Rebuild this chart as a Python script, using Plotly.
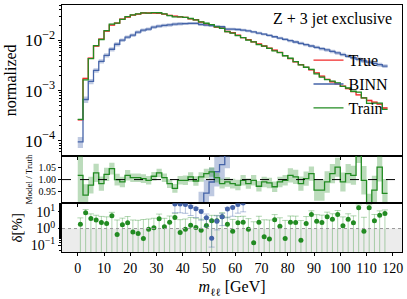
import plotly.graph_objects as go
from plotly.subplots import make_subplots

# ---------------- data ----------------
bin_edges = list(range(0, 120, 2))          # 59 bins
bin_centers = [e + 1 for e in bin_edges[:-1]]

true_vals = [2.6e-4, 1.74e-3, 4.4e-3, 7.6e-3, 0.0105, 0.0151, 0.0200, 0.0219, 0.0263, 0.0288,
             0.0316, 0.0331, 0.0347, 0.0347, 0.0347, 0.0342, 0.0331, 0.0312, 0.0302, 0.0292,
             0.0284, 0.0267, 0.0255, 0.0229, 0.0212, 0.0197, 0.0182, 0.0174, 0.0149, 0.01406,
             0.01259, 0.01127, 0.01023, 0.00929, 0.00843, 0.00766, 0.00698, 0.00631, 0.00570, 0.00492,
             0.00429, 0.00370, 0.00327, 0.00288, 0.00257, 0.00224, 0.00193, 0.00166, 0.00149, 0.00135,
             0.00122, 0.00109, 0.000946, 0.000817, 0.000711, 0.000631, 0.000586, 0.000532, 0.000447]

binn_vals = [9.5e-5, 6.6e-4, 1.51e-3, 2.51e-3, 3.80e-3, 5.0e-3, 6.6e-3, 8.3e-3, 0.0100, 0.0115,
             0.0126, 0.0145, 0.0158, 0.0166, 0.0182, 0.0191, 0.0197, 0.0202, 0.0209, 0.0212,
             0.0214, 0.0216, 0.0216, 0.0205, 0.0200, 0.0195, 0.0188, 0.0185, 0.0166, 0.0166,
             0.0163, 0.0159, 0.01535, 0.01459, 0.01387, 0.01318, 0.01242, 0.01169, 0.01102, 0.01038,
             0.00977, 0.00920, 0.00867, 0.00813, 0.00766, 0.00721, 0.00679, 0.00640, 0.00597, 0.00557,
             0.00518, 0.00479, 0.00447, 0.00417, 0.00387, 0.00366, 0.00347, 0.00325, 0.00306]

binn_relerr = [0.25, 0.15, 0.12, 0.10, 0.10, 0.10, 0.10, 0.10, 0.08, 0.08,
               0.08, 0.08, 0.08, 0.08, 0.08, 0.08, 0.08, 0.08, 0.08, 0.08,
               0.06, 0.06, 0.06, 0.06, 0.06, 0.06, 0.06, 0.06, 0.06, 0.06,
               0.06, 0.06, 0.06, 0.06, 0.06, 0.06, 0.06, 0.06, 0.06, 0.06,
               0.07, 0.07, 0.07, 0.07, 0.07, 0.07, 0.08, 0.08, 0.08, 0.08,
               0.08, 0.08, 0.08, 0.09, 0.09, 0.09, 0.09, 0.09, 0.09]

train_ratio = [1.018, 0.935, 0.977, 1.028, 0.983, 1.022, 1.046, 1.000, 0.990, 1.018,
               1.008, 1.008, 1.004, 0.997, 1.014, 1.028, 1.008, 0.983, 0.963, 0.997,
               0.997, 1.011, 0.994, 1.011, 1.025, 1.032, 1.008, 0.983, 0.990, 0.983,
               0.977, 0.997, 0.983, 0.997, 0.972, 0.990, 0.986, 0.970, 0.990, 0.997,
               1.018, 1.011, 0.983, 1.004, 1.025, 0.956, 0.956, 0.990, 1.025, 1.052,
               0.990, 1.025, 1.018, 1.130, 0.997, 0.880, 0.956, 1.052, 0.942]

train_ratio_err = [0.15, 0.045, 0.035, 0.038, 0.030, 0.028, 0.025, 0.025, 0.022, 0.022,
                   0.018, 0.018, 0.018, 0.018, 0.018, 0.018, 0.018, 0.018, 0.018, 0.018,
                   0.020, 0.020, 0.020, 0.020, 0.020, 0.020, 0.020, 0.020, 0.020, 0.020,
                   0.022, 0.022, 0.022, 0.022, 0.022, 0.022, 0.022, 0.022, 0.022, 0.022,
                   0.030, 0.030, 0.030, 0.030, 0.030, 0.045, 0.045, 0.045, 0.040, 0.040,
                   0.040, 0.040, 0.040, 0.060, 0.060, 0.060, 0.060, 0.060, 0.060]

train_delta = [1.82, 8.7, 4.0, 3.2, 2.3, 2.0, 5.75, 0.44, 1.66, 2.19,
               0.63, 0.5, 0.25, 0.91, 1.1, 3.8, 1.26, 2.4, 4.6, 0.58,
               0.91, 1.58, 1.15, 0.79, 1.51, 2.9, 2.9, 5.0, 1.8, 0.69,
               2.2, 2.4, 0.91, 0.14, 2.4, 0.32, 0.24, 3.3, 1.38, 0.25,
               2.4, 2.3, 0.2, 2.0, 6.9, 2.75, 2.3, 5.0, 3.6, 6.9,
               1.45, 3.6, 2.2, 17.4, 0.69, 17.4, 2.9, 6.3, 7.9]

train_delta_err = [2.5, 5.0, 3.5, 3.0, 3.0, 3.0, 3.5, 2.8, 2.5, 3.0,
                   2.6, 2.6, 3.2, 2.8, 3.0, 3.5, 2.8, 3.2, 3.5, 2.8,
                   2.8, 3.0, 3.0, 2.8, 3.0, 3.2, 3.2, 3.8, 3.0, 2.8,
                   3.0, 3.0, 3.0, 2.4, 3.0, 3.0, 3.0, 3.5, 3.0, 2.8,
                   3.2, 3.2, 2.8, 3.2, 4.5, 4.0, 4.0, 4.5, 4.0, 5.0,
                   3.5, 4.0, 3.5, 8.0, 4.0, 9.0, 4.0, 5.0, 5.0]

binn_delta_bins = [19, 20, 21, 22, 23, 24, 25, 26, 27, 28, 29, 30, 31, 32]
binn_delta = [29, 29, 27, 20, 15, 10.5, 4.4, 0.26, 2.75, 5.0, 14.5, 18, 27.5, 33]

title_text = "Z + 3 jet exclusive"

# ---------------- style ----------------
RED = "#f02a2a"
BLUE = "#4463a8"
GREEN = "#228b22"
FONT = "Liberation Serif, DejaVu Serif, serif"

fig = make_subplots(rows=3, cols=1, shared_xaxes=True, vertical_spacing=0,
                    row_heights=[152, 48, 49])


def step(v):
    return list(v) + [v[-1]]


def band(vals, err, rel, color, row):
    if rel:
        lo = [v * (1 - e) for v, e in zip(vals, err)]
        hi = [v * (1 + e) for v, e in zip(vals, err)]
    else:
        lo = [v - e for v, e in zip(vals, err)]
        hi = [v + e for v, e in zip(vals, err)]
    fig.add_trace(go.Scatter(x=bin_edges, y=step(lo), mode="lines", line=dict(width=0, shape="hv"),
                             showlegend=False, hoverinfo="skip"), row=row, col=1)
    fig.add_trace(go.Scatter(x=bin_edges, y=step(hi), mode="lines", line=dict(width=0, shape="hv"),
                             fill="tonexty", fillcolor=color, showlegend=False, hoverinfo="skip"),
                  row=row, col=1)


train_vals = [t * r for t, r in zip(true_vals, train_ratio)]
binn_ratio = [b / t for b, t in zip(binn_vals, true_vals)]

# main panel
band(true_vals, [0.03] * len(true_vals), True, "rgba(240,42,42,0.35)", 1)
band(binn_vals, binn_relerr, True, "rgba(68,99,168,0.35)", 1)
band(train_vals, [0.02] * len(train_vals), True, "rgba(34,139,34,0.3)", 1)
fig.add_trace(go.Scatter(x=bin_edges, y=step(true_vals), mode="lines", name="True",
                         line=dict(color=RED, width=1.3, shape="hv")), row=1, col=1)
fig.add_trace(go.Scatter(x=bin_edges, y=step(binn_vals), mode="lines", name="BINN",
                         line=dict(color=BLUE, width=1.3, shape="hv")), row=1, col=1)
fig.add_trace(go.Scatter(x=bin_edges, y=step(train_vals), mode="lines", name="Train",
                         line=dict(color=GREEN, width=1.3, shape="hv")), row=1, col=1)

# ratio panel
band(binn_ratio, binn_relerr, True, "rgba(68,99,168,0.35)", 2)
fig.add_trace(go.Scatter(x=bin_edges, y=step(binn_ratio), mode="lines", showlegend=False,
                         line=dict(color=BLUE, width=1.3, shape="hv")), row=2, col=1)
band(train_ratio, train_ratio_err, False, "rgba(34,139,34,0.3)", 2)
fig.add_trace(go.Scatter(x=bin_edges, y=step(train_ratio), mode="lines", showlegend=False,
                         line=dict(color=GREEN, width=1.3, shape="hv")), row=2, col=1)

# delta panel
fig.add_trace(go.Scatter(x=bin_centers, y=train_delta, mode="markers", showlegend=False,
                         marker=dict(color=GREEN, size=5),
                         error_y=dict(type="data", symmetric=False, array=train_delta_err,
                                      arrayminus=[v * 0.999 for v in train_delta],
                                      color="rgba(34,139,34,0.35)", thickness=1, width=3)),
              row=3, col=1)
fig.add_trace(go.Scatter(x=[bin_centers[i - 1] for i in binn_delta_bins], y=binn_delta,
                         mode="markers", showlegend=False,
                         marker=dict(color=BLUE, size=5),
                         error_y=dict(type="data", symmetric=False, array=[3] * len(binn_delta),
                                      arrayminus=[v * 0.7 for v in binn_delta],
                                      color="rgba(68,99,168,0.4)", thickness=1, width=3)),
              row=3, col=1)

# shapes
fig.add_shape(type="rect", xref="x3 domain", yref="y3 domain", x0=0, x1=1, y0=0, y1=1.4 / 2.9,
              fillcolor="#ececec", line=dict(width=0), layer="below")
fig.add_shape(type="line", xref="x3 domain", yref="y3 domain", x0=0, x1=1, y0=1.4 / 2.9, y1=1.4 / 2.9,
              line=dict(color="#999999", width=1, dash="dot"))
fig.add_shape(type="line", xref="x2 domain", yref="y2", x0=0, x1=1, y0=1, y1=1,
              line=dict(color="black", width=1, dash="dash"))

fig.add_annotation(text=title_text, xref="paper", yref="paper", x=0.975, y=0.944,
                   xanchor="right", yanchor="middle", showarrow=False,
                   font=dict(family=FONT, size=16, color="black"))

axis_common = dict(showline=True, linecolor="black", linewidth=1, mirror=True,
                   ticks="outside", ticklen=3, tickcolor="black", showgrid=False, zeroline=False,
                   tickfont=dict(family=FONT, size=14, color="black"))

for r in (1, 2, 3):
    fig.update_xaxes(range=[-6, 123.5], row=r, col=1, **axis_common)
fig.update_xaxes(row=3, col=1, tickvals=list(range(0, 130, 10)),
                 title=dict(text="<i>m</i><sub>ℓℓ</sub> [GeV]", standoff=6,
                            font=dict(family=FONT, size=16, color="black")))

fig.update_yaxes(type="log", range=[-4.3, -1.3], dtick=1, exponentformat="power", row=1, col=1,
                 minor=dict(ticks="outside", ticklen=2, tickcolor="black", dtick="D1"),
                 title=dict(text="normalized", standoff=4,
                            font=dict(family=FONT, size=16, color="black")),
                 **axis_common)
ratio_axis = dict(axis_common)
ratio_axis["tickfont"] = dict(family=FONT, size=10, color="black")
fig.update_yaxes(range=[0.9, 1.1], tickvals=[0.95, 1.0, 1.05], ticktext=["0.95", "1.00", "1.05"],
                 row=2, col=1,
                 title=dict(text="Model / Truth", standoff=4,
                            font=dict(family=FONT, size=9, color="black")),
                 **ratio_axis)
fig.update_yaxes(type="log", range=[-1.4, 1.5], tickvals=[0.1, 1, 10],
                 ticktext=["10<sup>−1</sup>", "10<sup>0</sup>", "10<sup>1</sup>"], row=3, col=1,
                 minor=dict(ticks="outside", ticklen=2, tickcolor="black"),
                 title=dict(text="δ[%]", standoff=4,
                            font=dict(family=FONT, size=15, color="black")),
                 **axis_common)

fig.update_layout(width=407, height=299, margin=dict(l=62, r=5, t=3, b=47),
                  paper_bgcolor="white", plot_bgcolor="white",
                  font=dict(family=FONT, size=14, color="black"),
                  legend=dict(x=0.725, y=0.845, xanchor="left", yanchor="top", traceorder="normal",
                              bgcolor="rgba(0,0,0,0)", font=dict(family=FONT, size=16),
                              itemwidth=30, tracegroupgap=0))

fig.write_html("out.html", config={"displayModeBar": False},
               post_script="document.body.style.margin='0px';")
